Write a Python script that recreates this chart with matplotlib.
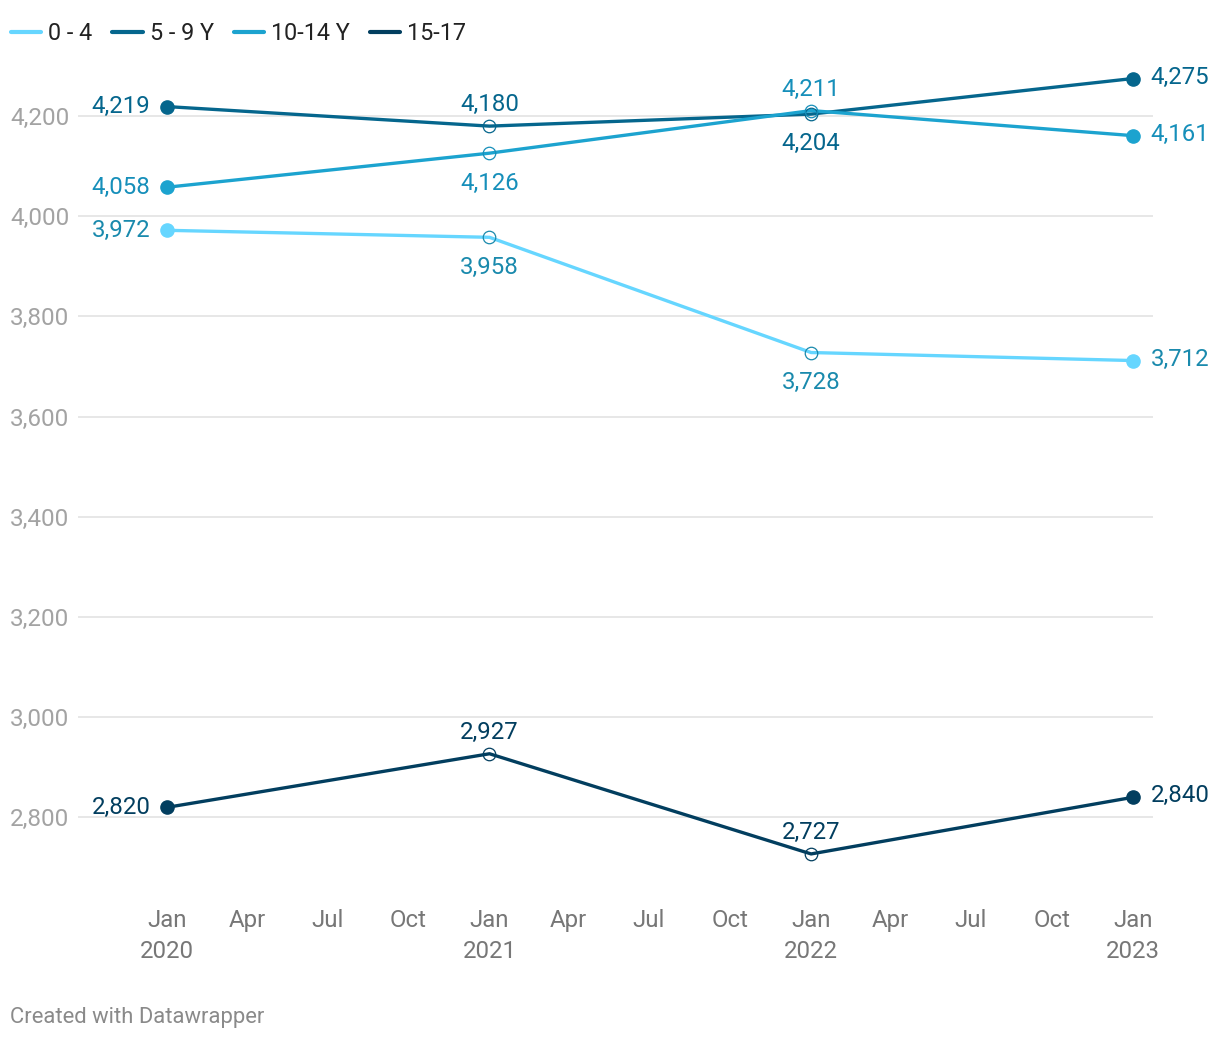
import matplotlib
matplotlib.use("Agg")
import matplotlib.pyplot as plt
import datetime as dt

plt.rcParams['font.family'] = ['Roboto', 'DejaVu Sans']

# ---- data ----
years = [2020, 2021, 2022, 2023]
series_names = ["0 - 4", "5 - 9 Y", "10-14 Y", "15-17"]
age_0_4 = [3972, 3958, 3728, 3712]
age_5_9 = [4219, 4180, 4204, 4275]
age_10_14 = [4058, 4126, 4211, 4161]
age_15_17 = [2820, 2927, 2727, 2840]
y_ticks = [2800, 3000, 3200, 3400, 3600, 3800, 4000, 4200]

dates = [dt.date(y, 1, 1) for y in years]

line_colors = ["#66d6ff", "#05668d", "#1ca3cf", "#023e5f"]
label_colors = ["#1a8aad", "#05668d", "#168fba", "#023e5f"]
# label placement for middle points: 'a' above, 'b' below
mid_pos = [["b", "b"], ["a", "b"], ["b", "a"], ["a", "a"]]

W, H = 1220, 1040
fig = plt.figure(figsize=(W / 100, H / 100), dpi=100)
ax_l, ax_r, ax_t, ax_b = 78, 1153, 60, 890
ax = fig.add_axes([ax_l / W, 1 - ax_b / H, (ax_r - ax_l) / W, (ax_b - ax_t) / H])

x0 = dt.date(2019, 9, 22)
x1 = dt.date(2023, 1, 24)
ax.set_xlim(x0, x1)
ax.set_ylim(2655, 4312)

for s in ax.spines.values():
    s.set_visible(False)

ax.set_yticks(y_ticks)
ax.set_yticklabels([f"{v:,}" for v in y_ticks])
ax.yaxis.grid(True, color="#e3e3e3", linewidth=1.2)
ax.set_axisbelow(True)
ax.tick_params(axis="y", length=0, pad=49, labelsize=17.5, labelcolor="#a3a3a3")
for lbl in ax.get_yticklabels():
    lbl.set_horizontalalignment("left")

# x ticks
tick_dates = []
tick_labels = []
for y in range(2020, 2024):
    for m, name in [(1, "Jan"), (4, "Apr"), (7, "Jul"), (10, "Oct")]:
        if y == 2023 and m > 1:
            continue
        tick_dates.append(dt.date(y, m, 1))
        tick_labels.append(f"{name}\n{y}" if m == 1 else name)
ax.set_xticks(tick_dates)
ax.set_xticklabels(tick_labels, linespacing=1.42)
ax.tick_params(axis="x", length=0, pad=14, labelsize=17.3, labelcolor="#777777")

all_series = [age_0_4, age_5_9, age_10_14, age_15_17]
fs = 17.3
for i, vals in enumerate(all_series):
    c = line_colors[i]
    lc = label_colors[i]
    ax.plot(dates, vals, color=c, linewidth=2.4, solid_capstyle="round",
            label=series_names[i], zorder=3)
    # end points filled
    ax.plot([dates[0], dates[-1]], [vals[0], vals[-1]], "o", color=c,
            markersize=9.5, zorder=4)
    # middle points hollow
    ax.plot(dates[1:-1], vals[1:-1], "o", markerfacecolor="none",
            markeredgecolor=lc, markeredgewidth=0.9, markersize=9, zorder=4)
    # labels
    ax.annotate(f"{vals[0]:,}", (dates[0], vals[0]), xytext=(-12, 0),
                textcoords="offset points", ha="right", va="center",
                fontsize=fs, color=lc)
    ax.annotate(f"{vals[-1]:,}", (dates[-1], vals[-1]), xytext=(13, 1),
                textcoords="offset points", ha="left", va="center",
                fontsize=fs, color=lc)
    for j, pos in zip([1, 2], mid_pos[i]):
        dy = 15.5 if pos == "a" else -21.5
        ax.annotate(f"{vals[j]:,}", (dates[j], vals[j]), xytext=(0, dy),
                    textcoords="offset points", ha="center", va="center",
                    fontsize=fs, color=lc)

leg = fig.legend(loc="upper left", bbox_to_anchor=(4 / W, 1 - 15 / H), ncol=4,
                 frameon=False, fontsize=16.8, handlelength=1.3,
                 handletextpad=0.3, columnspacing=0.85, borderaxespad=0,
                 borderpad=0.3)
for h in leg.get_lines():
    h.set_linewidth(3)
for t in leg.get_texts():
    t.set_color("#222222")

fig.text(10 / W, 1 - 1017 / H, "Created with Datawrapper", fontsize=15.8,
         color="#8a8a8a", ha="left", va="center")

fig.savefig("out.png", dpi=100, facecolor="white")
